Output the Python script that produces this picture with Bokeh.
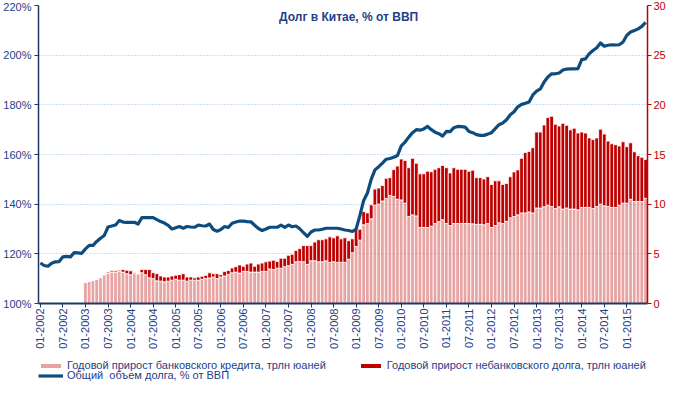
import math
from bokeh.plotting import figure
from bokeh.layouts import column
from bokeh.models import (Range1d, LinearAxis, FixedTicker, Legend, LegendItem,
                          ColumnDataSource, Label, PrintfTickFormatter)
from bokeh.embed import file_html
from bokeh.resources import INLINE

# ---------------- data ----------------
title_text = "Долг в Китае, % от ВВП"
label_bank = "Годовой прирост банковского кредита, трлн юаней"
label_nonbank = "Годовой прирост небанковского долга, трлн юаней"
label_debt = "Общий  объем долга, % от ВВП"

# monthly, 01-2002 .. 06-2015, % of GDP
debt = [
    116.3, 115.3, 115.0, 116.2, 116.8, 116.9, 118.8, 119.0, 118.8, 120.5,
    120.4, 120.2, 122.0, 123.4, 123.4, 125.0, 126.3, 127.4, 130.8, 131.2,
    131.6, 133.4, 132.8, 132.7, 132.7, 132.7, 132.0, 134.6, 134.6, 134.6,
    134.6, 133.8, 133.0, 132.4, 131.5, 130.0, 130.5, 131.0, 130.3, 131.0,
    130.8, 130.7, 131.6, 131.3, 131.2, 132.0, 129.8, 129.1, 129.8, 131.0,
    130.6, 132.3, 132.8, 133.2, 133.2, 133.0, 132.9, 131.5, 130.2, 129.4,
    130.0, 130.7, 130.7, 130.7, 131.6, 130.7, 131.6, 130.9, 131.2, 130.1,
    128.5, 127.0, 128.8, 129.6, 129.6, 129.9, 130.3, 130.3, 130.3, 130.3,
    130.0, 129.6, 129.4, 129.0, 130.0, 135.5, 141.5, 144.5, 150.0, 153.8,
    155.1, 156.5, 158.1, 158.4, 158.9, 159.6, 163.5, 165.0, 167.0, 168.8,
    170.0, 169.8, 170.3, 171.3, 170.0, 169.0, 168.4, 167.4, 169.3, 169.2,
    170.8, 171.3, 171.2, 171.0, 169.3, 168.8, 168.0, 167.7, 167.7, 168.2,
    168.8, 170.4, 172.0, 172.7, 174.0, 176.0, 177.2, 179.2, 180.2, 180.6,
    181.1, 184.0, 185.5, 186.4, 189.2, 191.2, 192.5, 192.5, 192.8, 194.0,
    194.4, 194.5, 194.5, 194.6, 198.2, 198.5, 200.6, 201.9, 203.0, 204.9,
    203.6, 204.0, 204.2, 204.1, 204.2, 205.3, 208.0, 209.3, 209.9, 210.6,
    211.6, 213.2,
]

# monthly, 01-2003 .. 06-2015, trillion yuan
bank = [
    2.12, 2.22, 2.31, 2.41, 2.61, 2.90, 3.06, 3.16, 3.16, 3.22,
    3.16, 3.00, 2.90, 3.00, 3.00, 3.10, 2.90, 2.58, 2.51, 2.28,
    2.25, 2.18, 2.25, 2.35, 2.44, 2.35, 2.35, 2.25, 2.35, 2.35,
    2.34, 2.44, 2.51, 2.57, 2.67, 2.51, 2.67, 2.77, 2.93, 3.09,
    3.16, 3.06, 3.23, 3.23, 3.16, 3.16, 3.16, 3.23, 3.23, 3.48,
    3.42, 3.55, 3.55, 3.71, 3.81, 3.94, 4.20, 4.23, 4.20, 3.94,
    4.30, 4.30, 4.20, 4.20, 4.30, 4.14, 4.20, 4.14, 4.14, 4.14,
    4.46, 5.11, 5.73, 6.38, 7.92, 8.05, 8.53, 9.90, 10.00, 10.32,
    10.58, 10.88, 10.78, 10.49, 10.42, 10.10, 8.76, 8.92, 8.82, 7.65,
    7.65, 7.65, 7.78, 8.05, 8.24, 8.43, 8.05, 7.84, 8.05, 8.05,
    8.05, 8.05, 8.05, 8.02, 7.97, 7.97, 7.93, 8.05, 7.65, 7.84,
    8.14, 8.05, 8.27, 8.63, 8.76, 8.93, 9.12, 9.12, 9.22, 9.12,
    9.61, 9.61, 9.74, 9.90, 9.77, 9.57, 9.74, 9.51, 9.61, 9.51,
    9.51, 9.44, 9.67, 9.67, 9.67, 9.57, 9.77, 10.00, 9.83, 9.77,
    9.67, 9.67, 9.90, 10.10, 10.10, 10.49, 10.26, 10.26, 10.26, 10.59,
]
nonbank = [
    0.00, 0.00, 0.00, 0.00, 0.00, 0.00, 0.10, 0.13, 0.13, 0.13,
    0.26, 0.35, 0.39, 0.10, 0.00, 0.32, 0.52, 0.84, 0.59, 0.72,
    0.52, 0.49, 0.42, 0.42, 0.40, 0.55, 0.65, 0.42, 0.32, 0.23,
    0.33, 0.30, 0.32, 0.52, 0.33, 0.49, 0.23, 0.46, 0.39, 0.49,
    0.55, 0.82, 0.52, 0.74, 0.91, 0.59, 0.81, 0.84, 0.97, 0.79,
    0.94, 0.68, 1.01, 0.85, 1.04, 1.01, 1.14, 1.30, 1.63, 1.89,
    1.53, 1.89, 2.22, 2.22, 2.21, 2.57, 2.41, 2.67, 2.37, 2.47,
    1.86, 1.40, 1.75, 1.10, 1.33, 1.07, 1.40, 1.62, 1.62, 1.56,
    2.02, 1.79, 2.70, 3.35, 4.13, 4.29, 4.91, 5.70, 5.31, 5.41,
    5.41, 5.67, 5.48, 5.46, 5.43, 5.47, 5.62, 5.31, 5.62, 5.46,
    5.46, 5.46, 5.27, 5.40, 4.70, 4.70, 4.61, 4.72, 4.33, 4.51,
    4.21, 3.93, 3.81, 4.13, 4.49, 4.52, 5.50, 6.08, 6.08, 6.57,
    7.65, 7.65, 8.23, 8.82, 9.08, 8.47, 8.13, 8.63, 8.33, 7.97,
    8.14, 7.72, 7.59, 7.49, 7.00, 6.93, 6.90, 7.55, 7.23, 6.58,
    6.41, 6.32, 5.96, 6.18, 5.69, 5.69, 5.01, 4.62, 4.46, 3.90,
]

tick_labels = [
    "01-2002", "07-2002", "01-2003", "07-2003", "01-2004", "07-2004",
    "01-2005", "07-2005", "01-2006", "07-2006", "01-2007", "07-2007",
    "01-2008", "07-2008", "01-2009", "07-2009", "01-2010", "07-2010",
    "01-2011", "07-2011", "01-2012", "07-2012", "01-2013", "07-2013",
    "01-2014", "07-2014", "01-2015",
]
left_ticks = [100, 120, 140, 160, 180, 200, 220]
right_ticks = [0, 5, 10, 15, 20, 25, 30]

# ---------------- build ----------------
months = [f"{m:02d}-{y}" for y in range(2002, 2016) for m in range(1, 13)][:len(debt)]
n = len(months)
bar_start = months.index("01-2003")
bar_x = list(range(bar_start, n))

FONT = "Liberation Sans"
NAVY = "#1F3864"
TXT = "#24408A"
RED = "#C00000"
LINE = "#0E4C7E"
PINK_ALPHA = 0.36

W = 668
LEG_H = 31
MAIN_H = 382 - LEG_H

p = figure(width=W, height=MAIN_H, output_backend="svg", toolbar_location=None,
           x_range=Range1d(-0.5, n - 0.5), y_range=Range1d(left_ticks[0], left_ticks[-1]),
           min_border_left=0, min_border_right=0, min_border_top=5, min_border_bottom=0,
           outline_line_color=None, background_fill_color="white")
p.extra_y_ranges = {"right": Range1d(right_ticks[0], right_ticks[-1])}

bar_src = ColumnDataSource(dict(x=bar_x, bank=bank, nonbank=nonbank))
rs = p.vbar_stack(["bank", "nonbank"], x="x", width=1.0, source=bar_src,
                  y_range_name="right",
                  fill_color=[RED, RED], fill_alpha=[PINK_ALPHA, 1.0],
                  line_color="white", line_width=0.8)

line_src = ColumnDataSource(dict(x=list(range(n)), y=debt))
lr = p.line("x", "y", source=line_src, line_color=LINE, line_width=3.2,
            line_join="round")
lr.level = "overlay"

# grid
p.xgrid.visible = False
p.ygrid.ticker = FixedTicker(ticks=left_ticks)
p.ygrid.grid_line_color = "#9DC3E6"
p.ygrid.grid_line_dash = "1 2"
p.ygrid.grid_line_width = 1

# left axis
ya = p.yaxis[0]
ya.ticker = FixedTicker(ticks=left_ticks)
ya.formatter = PrintfTickFormatter(format="%d%%")
ya.axis_line_color = NAVY
ya.axis_line_width = 1.5
ya.major_tick_line_color = NAVY
ya.major_tick_out = 4
ya.major_tick_in = 0
ya.minor_tick_line_color = None
ya.major_label_standoff = 3
ya.axis_label_standoff = 0
ya.major_label_text_font = FONT
ya.major_label_text_font_size = "11px"
ya.major_label_text_color = TXT

# right axis
ra = LinearAxis(y_range_name="right", ticker=FixedTicker(ticks=right_ticks))
ra.axis_line_color = RED
ra.axis_line_width = 1.5
ra.major_tick_line_color = RED
ra.major_tick_out = 4
ra.major_tick_in = 0
ra.minor_tick_line_color = None
ra.major_label_standoff = 2
ra.axis_label_standoff = 0
ra.major_label_text_font = FONT
ra.major_label_text_font_size = "11px"
ra.major_label_text_color = RED
p.add_layout(ra, "right")

# bottom axis
xa = p.xaxis[0]
tick_pos = [months.index(t) for t in tick_labels]
xa.ticker = FixedTicker(ticks=tick_pos)
xa.major_label_overrides = {pos: lbl for pos, lbl in zip(tick_pos, tick_labels)}
xa.major_label_orientation = math.pi / 2
xa.axis_line_color = NAVY
xa.axis_line_width = 2
xa.major_tick_line_color = NAVY
xa.major_tick_out = 4
xa.major_tick_in = 0
xa.minor_tick_line_color = None
xa.major_label_standoff = 1
xa.axis_label_standoff = 0
xa.major_label_text_font = FONT
xa.major_label_text_font_size = "11px"
xa.major_label_text_color = TXT

# title inside the plot
title_x = (n - 1) / 2 + 1.5
p.add_layout(Label(x=title_x, y=215.2, text=title_text, text_align="center",
                   text_baseline="middle", text_font=FONT, text_font_size="12px",
                   text_font_style="bold", text_color=TXT))

# ---------------- legend strip ----------------
lf = figure(width=W, height=LEG_H, output_backend="svg", toolbar_location=None,
            x_range=Range1d(0, 1), y_range=Range1d(0, 1),
            x_axis_type=None, y_axis_type=None,
            min_border_left=0, min_border_right=0, min_border_top=0, min_border_bottom=0,
            outline_line_color=None)
lf.xgrid.visible = False
lf.ygrid.visible = False
# legend proxies (kept outside the visible range)
g_bank = lf.rect(x=[5], y=[5], width=1, height=1, fill_color=RED, fill_alpha=PINK_ALPHA,
                 line_color=None)
g_nonbank = lf.rect(x=[5], y=[5], width=1, height=1, fill_color=RED, line_color=None)
g_debt = lf.line(x=[5, 6], y=[5, 6], line_color=LINE, line_width=3.2)

leg_common = dict(padding=0, margin=0, border_line_color=None,
                  background_fill_alpha=0, label_text_font=FONT,
                  label_text_font_size="11px", label_text_color=TXT,
                  glyph_width=25, glyph_height=5, label_height=10,
                  label_standoff=4)
leg1 = Legend(items=[LegendItem(label=label_bank, renderers=[g_bank]),
                     LegendItem(label=label_nonbank, renderers=[g_nonbank])],
              orientation="horizontal", spacing=32, location=(0, 11), **leg_common)
leg2 = Legend(items=[LegendItem(label=label_debt, renderers=[g_debt])],
              orientation="horizontal", location=(0, 1), **leg_common)
lf.add_layout(leg1, "center")
lf.add_layout(leg2, "center")

layout = column(p, lf, spacing=0)
open("out.html", "w").write(file_html(layout, INLINE))
